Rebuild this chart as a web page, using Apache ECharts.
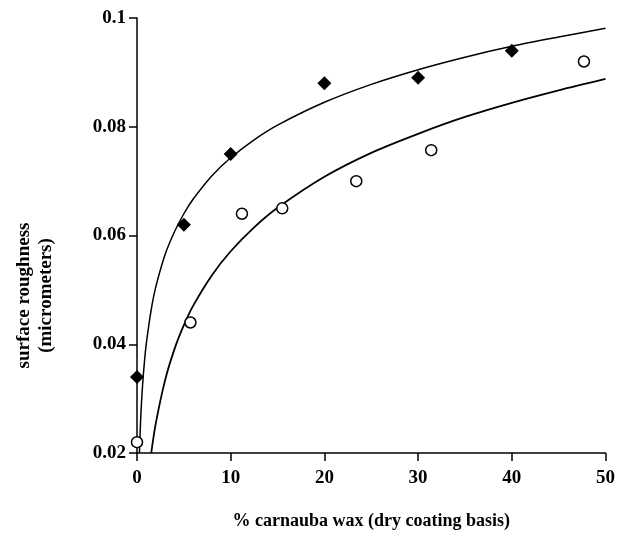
<!DOCTYPE html>
<html>
<head>
<meta charset="utf-8">
<script src="https://cdn.jsdelivr.net/npm/echarts@6/dist/echarts.min.js"></script>
<style>
html, body { margin: 0; padding: 0; background: #fff; }
#main { width: 618px; height: 542px; }
</style>
</head>
<body>
<div id="main"></div>
<script>
// measured points
var diamondX = [0, 5, 10, 20, 30, 40];
var diamondY = [0.034, 0.062, 0.075, 0.088, 0.089, 0.094];
var circleX = [0, 5.7, 11.2, 15.5, 23.4, 31.4, 47.7];
var circleY = [0.022, 0.044, 0.064, 0.065, 0.070, 0.0757, 0.092];

// fitted curves
var upperX = [0.26, 0.4, 0.6, 0.8, 1, 1.5, 2, 3, 4, 5, 6, 8, 10, 12.5, 15, 20, 25, 30, 35, 40, 45, 50];
var upperY = [0.020, 0.0266, 0.0326, 0.0369, 0.0402, 0.0462, 0.0505, 0.0565, 0.0607, 0.0640, 0.0667, 0.0710,
              0.0743, 0.0776, 0.0803, 0.0845, 0.0878, 0.0905, 0.0928, 0.0948, 0.0965, 0.0981];
var lowerX = [1.52, 2, 3, 4, 5, 6, 8, 10, 12.5, 15, 20, 25, 30, 35, 40, 45, 50];
var lowerY = [0.020, 0.0254, 0.0334, 0.0391, 0.0435, 0.0471, 0.0527, 0.0571, 0.0615, 0.0651, 0.0708,
              0.0752, 0.0787, 0.0818, 0.0844, 0.0867, 0.0888];

function pairs(xs, ys) {
    var out = [];
    for (var i = 0; i < xs.length; i++) out.push([xs[i], ys[i]]);
    return out;
}

var font = '"Liberation Serif", "Times New Roman", serif';
var myChart = echarts.init(document.getElementById('main'));
var option = {
    backgroundColor: '#fff',
    animation: false,
    grid: { left: 137, right: 10, top: 18, bottom: 89 },
    xAxis: {
        type: 'value',
        min: 0, max: 50, interval: 10,
        name: '% carnauba wax (dry coating basis)',
        nameLocation: 'middle',
        nameGap: 59,
        nameTextStyle: { fontFamily: font, fontWeight: 'bold', fontSize: 18, color: '#000' },
        axisLine: { lineStyle: { color: '#000', width: 1.5 } },
        axisTick: { inside: false, length: 8, lineStyle: { color: '#000', width: 1.5 } },
        axisLabel: { margin: 16, fontFamily: font, fontWeight: 'bold', fontSize: 19, color: '#000' },
        splitLine: { show: false }
    },
    yAxis: {
        type: 'value',
        min: 0.02, max: 0.1, interval: 0.02,
        name: 'surface roughness\n(micrometers)',
        nameLocation: 'middle',
        nameRotate: 90,
        nameGap: 80,
        nameTextStyle: { fontFamily: font, fontWeight: 'bold', fontSize: 19, lineHeight: 22, color: '#000',
                         padding: [0, 120, 0, 0] },
        axisLine: { show: true, lineStyle: { color: '#000', width: 1.5 } },
        axisTick: { show: true, inside: false, length: 8, lineStyle: { color: '#000', width: 1.5 } },
        axisLabel: { margin: 11, fontFamily: font, fontWeight: 'bold', fontSize: 19, color: '#000' },
        splitLine: { show: false }
    },
    series: [{
        type: 'line',
        data: pairs(upperX, upperY),
        showSymbol: false,
        smooth: 0.3,
        lineStyle: { color: '#000', width: 1.5 },
        z: 2
    }, {
        type: 'line',
        data: pairs(lowerX, lowerY),
        showSymbol: false,
        smooth: 0.3,
        lineStyle: { color: '#000', width: 1.8 },
        z: 2
    }, {
        type: 'scatter',
        data: pairs(diamondX, diamondY),
        symbol: 'diamond',
        symbolSize: 14,
        itemStyle: { color: '#000', opacity: 1 },
        z: 3
    }, {
        type: 'scatter',
        data: pairs(circleX, circleY),
        symbol: 'circle',
        symbolSize: 11,
        itemStyle: { color: '#fff', borderColor: '#000', borderWidth: 1.5, opacity: 1 },
        z: 3
    }]
};
myChart.setOption(option, true);
</script>
</body>
</html>
